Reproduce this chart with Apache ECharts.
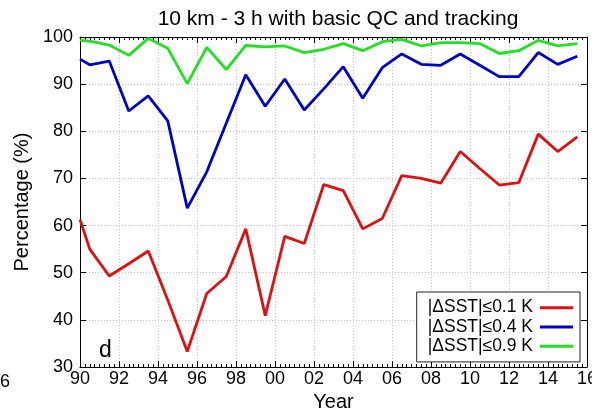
<!DOCTYPE html>
<html><head><meta charset="utf-8">
<script src="https://cdn.jsdelivr.net/npm/echarts@6/dist/echarts.min.js"></script>
<style>html,body{margin:0;padding:0;background:#fff}#c{width:592px;height:409px}</style>
</head><body><div id="c"></div>
<script>
const years = [1990, 1990.5, 1991.5, 1992.5, 1993.5, 1994.5, 1995.5, 1996.5, 1997.5, 1998.5, 1999.5,
  2000.5, 2001.5, 2002.5, 2003.5, 2004.5, 2005.5, 2006.5, 2007.5, 2008.5, 2009.5,
  2010.5, 2011.5, 2012.5, 2013.5, 2014.5, 2015.5];
const sst01 = [61.3, 55.0, 49.3, 51.9, 54.6, 44.2, 33.3, 45.6, 49.2, 59.3, 40.9, 57.7, 56.2, 68.7, 67.4, 59.3, 61.5, 70.6, 70.0, 69.0, 75.7, 72.1, 68.6, 69.1, 79.4, 75.7, 78.8];
const sst04 = [95.3, 94.1, 94.9, 84.3, 87.5, 82.2, 63.7, 71.4, 81.7, 92.0, 85.3, 91.1, 84.5, 89.0, 93.7, 87.0, 93.5, 96.4, 94.2, 94.0, 96.4, 94.0, 91.6, 91.6, 96.7, 94.2, 95.9];
const sst09 = [99.3, 99.1, 98.3, 96.1, 99.7, 97.6, 90.1, 97.8, 93.1, 98.2, 97.9, 98.1, 96.7, 97.4, 98.6, 97.1, 99.0, 99.5, 98.1, 98.8, 98.8, 98.6, 96.5, 97.1, 99.3, 98.1, 98.6];
const seriesNames = ['|ΔSST|≤0.1 K', '|ΔSST|≤0.4 K', '|ΔSST|≤0.9 K'];
const colors = ['#e01010', '#0000cc', '#22e022'];
const titleText = '10 km - 3 h with basic QC and tracking';

const FONT = 'Liberation Sans, Arial, sans-serif';
const chart = echarts.init(document.getElementById('c'), null, {renderer: 'canvas'});
const pair = arr => years.map((y, i) => [y, arr[i]]);
const gridLine = {show: true, lineStyle: {color: '#c4c4c4', type: [1, 2], width: 1}};
const axisLine = {show: true, onZero: false, lineStyle: {color: '#000', width: 1}};
const tick = {show: true, inside: true, length: 6, lineStyle: {color: '#000'}};
const minor = {show: true, splitNumber: 8, length: 3, lineStyle: {color: '#000'}};
const option = {
  animation: false,
  title: {text: titleText, left: 333, top: 4, textAlign: 'center',
    textStyle: {fontFamily: FONT, fontSize: 21, fontWeight: 'normal', color: '#000'}},
  grid: {left: 80, right: 5, top: 37, bottom: 42, show: false, containLabel: false, outerBoundsMode: 'none'},
  legend: {
    orient: 'vertical', right: 12, top: 292, align: 'right',
    icon: 'rect', itemWidth: 33, itemHeight: 3, itemGap: 0,
    padding: [6, 7, 6, 11],
    borderColor: '#222', borderWidth: 1, backgroundColor: '#fff',
    textStyle: {fontFamily: FONT, fontSize: 17.5, color: '#000', lineHeight: 19.3, padding: [0, 2, 0, 0]},
    data: seriesNames
  },
  xAxis: [{
    type: 'value', min: 1990, max: 2016, interval: 2,
    name: 'Year', nameLocation: 'middle', nameGap: 17,
    nameTextStyle: {fontFamily: FONT, fontSize: 20, color: '#000'},
    axisLine: axisLine, axisTick: tick, minorTick: minor,
    axisLabel: {fontFamily: FONT, fontSize: 18, color: '#000', margin: 3,
      formatter: v => String(Math.round(v) % 100).padStart(2, '0')},
    splitLine: gridLine
  }, {
    type: 'value', min: 1990, max: 2016, interval: 2, position: 'top',
    axisLine: axisLine, axisTick: tick, minorTick: minor,
    axisLabel: {show: false}, splitLine: {show: false}
  }],
  yAxis: [{
    type: 'value', min: 30, max: 100, interval: 10,
    name: 'Percentage (%)', nameLocation: 'middle', nameGap: 43,
    nameTextStyle: {fontFamily: FONT, fontSize: 20, color: '#000'},
    axisLine: axisLine, axisTick: tick,
    axisLabel: {fontFamily: FONT, fontSize: 18, color: '#000', margin: 7},
    splitLine: gridLine
  }, {
    type: 'value', min: 30, max: 100, interval: 10, position: 'right',
    axisLine: axisLine, axisTick: tick,
    axisLabel: {show: false}, splitLine: {show: false}
  }],
  series: [sst01, sst04, sst09].map((arr, i) => ({
    name: seriesNames[i], type: 'line', data: pair(arr),
    xAxisIndex: 0, yAxisIndex: 0,
    symbol: 'none', lineStyle: {color: colors[i], width: 2.8}, itemStyle: {color: colors[i]},
    z: 3 - i
  })),
  graphic: [
    {type: 'text', left: 99, top: 339, style: {text: 'd', font: '23px ' + FONT, fill: '#000'}},
    {type: 'text', left: 0, top: 373, style: {text: '6', font: '18px ' + FONT, fill: '#000'}}
  ]
};
chart.setOption(option);
</script></body></html>
